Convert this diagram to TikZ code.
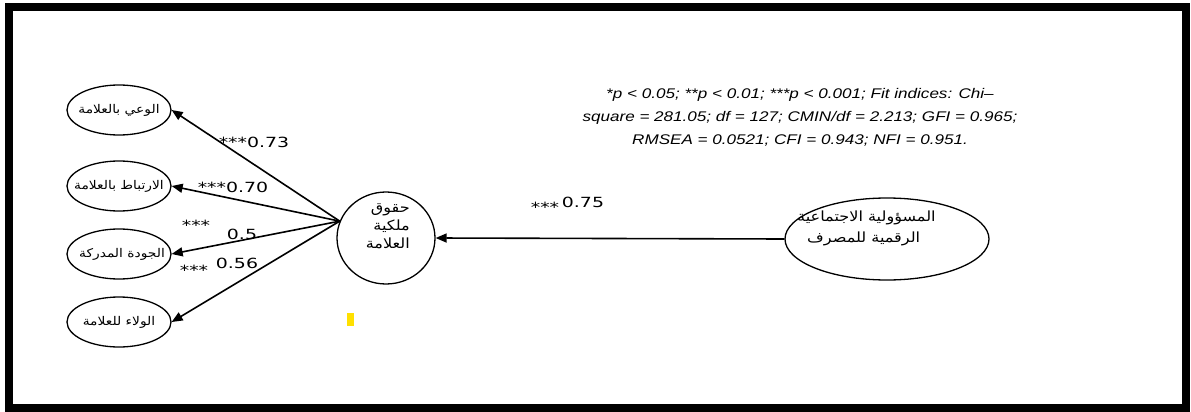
\documentclass[tikz,border=0pt]{standalone}
\usepackage{fontspec}
\usetikzlibrary{shapes.geometric,arrows.meta}
\TeXXeTstate=1
\newfontfamily\arabicfont[Script=Arabic,FakeStretch=1.15]{DejaVu Sans}
\newfontfamily\numfont[FakeStretch=1.35]{DejaVu Sans}
\newfontfamily\capfont[FakeStretch=1.22]{Liberation Sans}
\definecolor{markyellow}{HTML}{FFE000}
\begin{document}
\begin{tikzpicture}[x=1pt,y=-1pt,
  lat/.style={draw, ellipse, line width=1.3pt, minimum width=104pt, minimum height=50pt, inner sep=0pt},
  lattext/.style={font=\arabicfont\fontsize{12}{14}\selectfont, inner sep=0pt},
  arr/.style={line width=1.6pt, -{Triangle[length=11pt,width=9pt]}},
  lbl/.style={font=\numfont\fontsize{14}{16}\selectfont, inner sep=0pt},
  atext/.style={font=\arabicfont\fontsize{14}{18}\selectfont, inner sep=0pt}]
\useasboundingbox (0,0) rectangle (1191,412);
\draw[line width=8pt] (9,7) rectangle (1186,408);

% left indicator ellipses
\node[lat] (e1) at (119,110) {};
\node[lat] (e2) at (119,186) {};
\node[lat] (e3) at (119,254) {};
\node[lat] (e4) at (119,322) {};
\node[lattext] (t1) at (e1.center) {\beginR الوعي بالعلامة\endR};
\node[lattext] (t2) at (e2.center) {\beginR الارتباط بالعلامة\endR};
\node[lattext] (t3) at ([xshift=3pt]e3.center) {\beginR الجودة المدركة\endR};
\node[lattext] (t4) at (e4.center) {\beginR الولاء للعلامة\endR};

% central construct
\node[draw, ellipse, line width=1.3pt, minimum width=98pt, minimum height=92pt, inner sep=0pt] (c) at (386,238) {};
\node[atext, align=right, anchor=north east] (ct) at (410,203) {\beginR حقوق\endR\\ \beginR ملكية\endR\\ \beginR العلامة\endR};

% right construct
\node[draw, ellipse, line width=1.3pt, minimum width=204pt, minimum height=82pt, inner sep=0pt] (r) at (887,239) {};
\node[atext, anchor=west] (rt1) at (797,218) {\beginR المسؤولية الاجتماعية\endR};
\node[atext, anchor=west] (rt2) at (807,239) {\beginR الرقمية للمصرف\endR};

% connectors
\coordinate (src) at (c.160);
\draw[arr] (src) -- (e1.east);
\draw[arr] (src) -- (e2.east);
\draw[arr] (src) -- (e3.east);
\draw[arr] (src) -- (e4.east);
\draw[arr] (r.west) -- (c.east);

% labels
\node[lbl] (l1) at (254,142) {***0.73};
\node[lbl] (l2) at (233,187) {***0.70};
\node[lbl] (l3a) at (196,225) {***};
\node[lbl] (l3b) at (242,234) {0.5};
\node[lbl] (l4a) at (194,270) {***};
\node[lbl] (l4b) at (237,263) {0.56};
\node[lbl] (l5a) at (545,207) {***};
\node[lbl] (l5b) at (583,202) {0.75};

% fit note
\node[font=\capfont\itshape\fontsize{14}{23}\selectfont, align=center, inner sep=0pt] (note) at (800,117)
 {*p < 0.05; **p < 0.01; ***p < 0.001; Fit indices: Chi–\\
  square = 281.05; df = 127; CMIN/df = 2.213; GFI = 0.965;\\
  RMSEA = 0.0521; CFI = 0.943; NFI = 0.951.};

% small yellow mark
\fill[markyellow] (347,313) rectangle (354,326);
\end{tikzpicture}
\end{document}
